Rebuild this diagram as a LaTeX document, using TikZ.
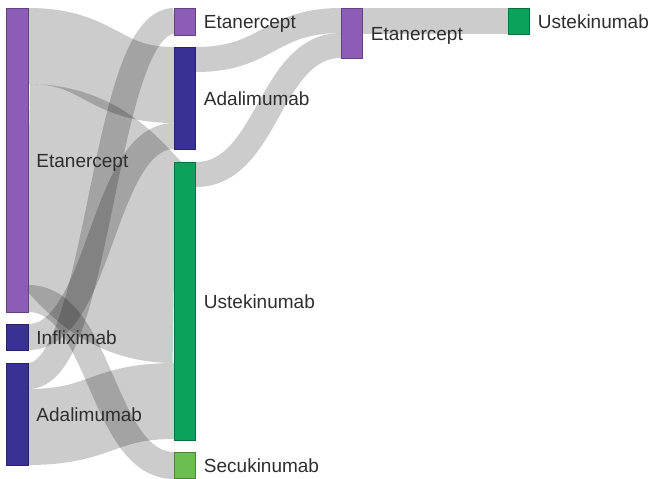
\documentclass[tikz,border=0pt]{standalone}
\usepackage{fontspec}
\setmainfont{Liberation Sans}
\usetikzlibrary{calc}

\definecolor{etacol}{HTML}{8C5DB6}
\definecolor{adacol}{HTML}{3A3194}
\definecolor{ustcol}{HTML}{0AA25C}
\definecolor{seccol}{HTML}{6DBE50}
\definecolor{labelcol}{HTML}{2E2E2E}

\tikzset{
  bar/.style={draw=#1!70!black, fill=#1, line width=0.6pt, inner sep=0pt,
              outer sep=0pt, minimum width=21.5pt},
  link/.style={draw=black, draw opacity=0.2, line cap=butt},
  lbl/.style={anchor=base west, text=labelcol, inner sep=0pt,
              font=\fontsize{19}{22}\selectfont},
}

% a flow drawn as one thick stroked curve between two bars:
% #1 source bar, #2 drop of the band's top below the bar's top,
% #3 target bar, #4 the same at the target, #5 band width
\newcommand\sankeylink[5]{%
  \draw[link, line width=#5pt]
    let \p1=([yshift={-(#2+#5/2)*1pt}]#1.north east),
        \p2=([yshift={-(#4+#5/2)*1pt}]#3.north west),
        \p3=($(\p1)!.5!(\p2)$) in
    (\p1) .. controls (\x3,\y1) and (\x3,\y2) .. (\p2);}

\begin{document}
\begin{tikzpicture}[x=1pt,y=-1pt]
\useasboundingbox[fill=white] (0,0) rectangle (651,479);

% bar positions (drawn after the flows)
\coordinate (e1) at (17.5,160);
\coordinate (i1) at (17.5,337);
\coordinate (a1) at (17.5,414);
\coordinate (e2) at (185,21.5);
\coordinate (a2) at (185,98);
\coordinate (u2) at (185,301);
\coordinate (s2) at (185,465);
\coordinate (e3) at (352,33);
\coordinate (u4) at (519,21);

% bars, first column
\node[bar=etacol, minimum height=304pt] (E1) at (e1) {};
\node[bar=adacol, minimum height=26pt]  (I1) at (i1) {};
\node[bar=adacol, minimum height=102pt] (A1) at (a1) {};
% second column
\node[bar=etacol, minimum height=27pt]  (E2) at (e2) {};
\node[bar=adacol, minimum height=102pt] (A2) at (a2) {};
\node[bar=ustcol, minimum height=278pt] (U2) at (u2) {};
\node[bar=seccol, minimum height=26pt]  (S2) at (s2) {};
% third and fourth columns
\node[bar=etacol, minimum height=50pt]  (E3) at (e3) {};
\node[bar=ustcol, minimum height=26pt]  (U4) at (u4) {};

% flows between the columns
\sankeylink{E1}{0}{A2}{0}{76}
\sankeylink{E1}{76}{U2}{0}{201}
\sankeylink{E1}{277}{S2}{0}{27}
\sankeylink{I1}{0}{A2}{76}{26}
\sankeylink{A1}{0}{E2}{0}{26}
\sankeylink{A1}{26}{U2}{201}{76}
\sankeylink{A2}{0}{E3}{0}{25}
\sankeylink{U2}{0}{E3}{25}{25}
\sankeylink{E3}{0}{U4}{0}{26}

% bars again, over the flows
\node[bar=etacol, minimum height=304pt] at (e1) {};
\node[bar=adacol, minimum height=26pt]  at (i1) {};
\node[bar=adacol, minimum height=102pt] at (a1) {};
\node[bar=etacol, minimum height=27pt]  at (e2) {};
\node[bar=adacol, minimum height=102pt] at (a2) {};
\node[bar=ustcol, minimum height=278pt] at (u2) {};
\node[bar=seccol, minimum height=26pt]  at (s2) {};
\node[bar=etacol, minimum height=50pt]  at (e3) {};
\node[bar=ustcol, minimum height=26pt]  at (u4) {};

% labels
\node[lbl] (e1l) at ([xshift=8pt,yshift=-7pt]E1.east) {Etanercept};
\node[lbl] (i1l) at ([xshift=8pt,yshift=-7pt]I1.east) {Infliximab};
\node[lbl] (a1l) at ([xshift=8pt,yshift=-7pt]A1.east) {Adalimumab};
\node[lbl] (e2l) at ([xshift=8pt,yshift=-7pt]E2.east) {Etanercept};
\node[lbl] (a2l) at ([xshift=8pt,yshift=-7pt]A2.east) {Adalimumab};
\node[lbl] (u2l) at ([xshift=8pt,yshift=-7pt]U2.east) {Ustekinumab};
\node[lbl] (s2l) at ([xshift=8pt,yshift=-7pt]S2.east) {Secukinumab};
\node[lbl] (e3l) at ([xshift=8pt,yshift=-7pt]E3.east) {Etanercept};
\node[lbl] (u4l) at ([xshift=8pt,yshift=-7pt]U4.east) {Ustekinumab};
\end{tikzpicture}
\end{document}
